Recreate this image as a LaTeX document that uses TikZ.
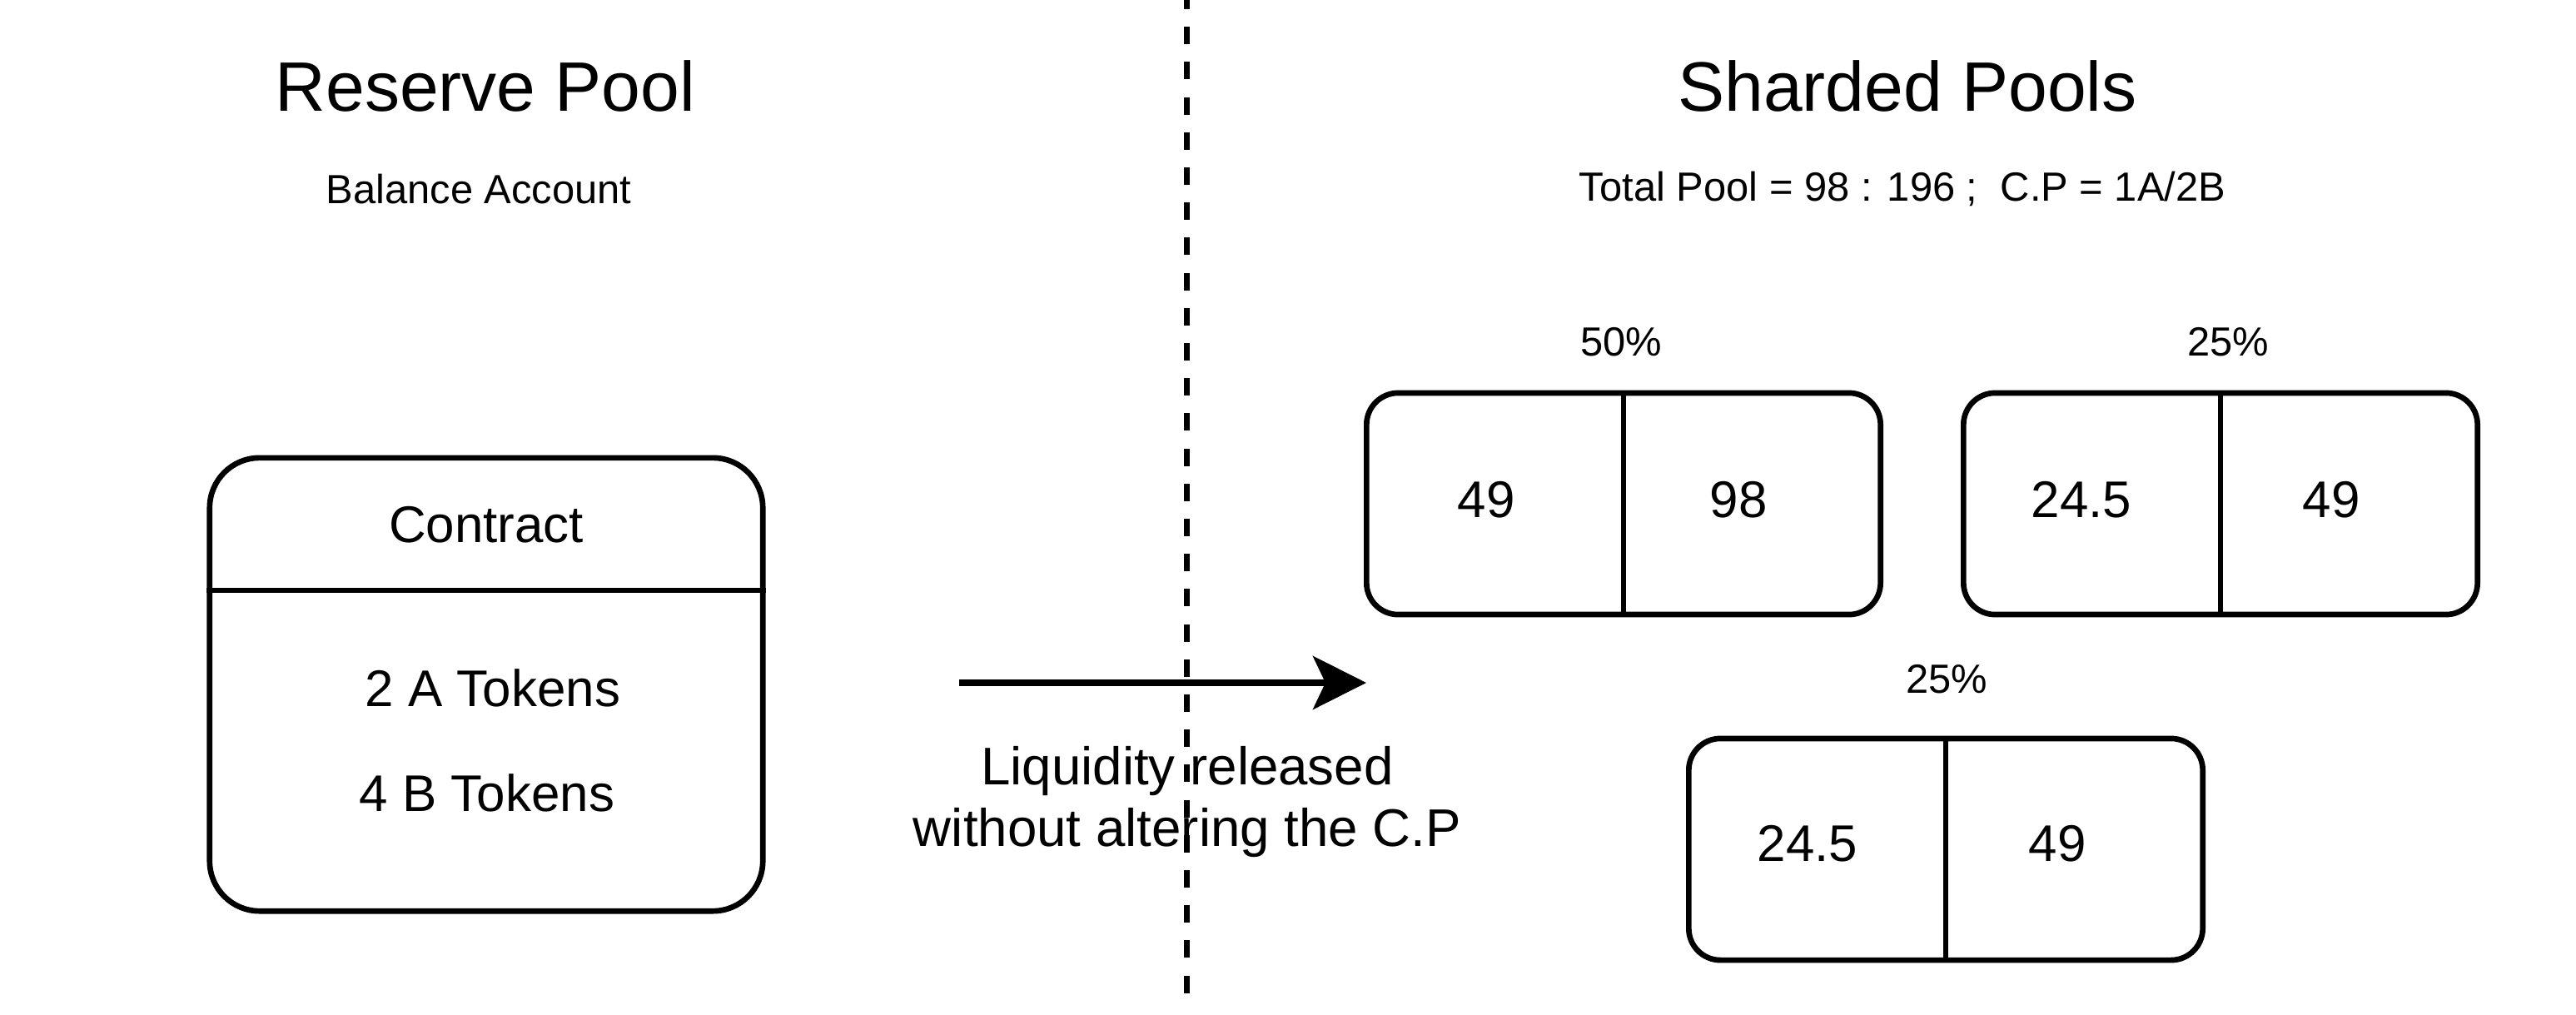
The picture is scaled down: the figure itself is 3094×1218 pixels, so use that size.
\documentclass[tikz,border=0pt]{standalone}
\usepackage{fontspec}
\setmainfont{Liberation Sans}
\usetikzlibrary{arrows.meta,positioning}

\begin{document}
\begin{tikzpicture}[x=0.01cm, y=-0.01cm, >=Stealth]
	\useasboundingbox (0,0) rectangle (3094,1218);
	% ------------------------------------------------------------------
	% STYLE DEFINITIONS
	% ------------------------------------------------------------------
	\tikzset{
		heading/.style     = {inner sep=0pt, font=\fontsize{23.9}{28}\selectfont},
		caption/.style     = {inner sep=0pt, font=\fontsize{13.9}{17}\selectfont},
		body/.style        = {inner sep=0pt, font=\fontsize{17.6}{21}\selectfont},
		contractbox/.style = {draw, line width=1.9pt, rounded corners=0.6cm,
		                      minimum width=6.64cm, minimum height=5.44cm, inner sep=0pt},
		poolbox/.style     = {draw, line width=1.9pt, rounded corners=0.38cm,
		                      minimum width=6.17cm, minimum height=2.66cm, inner sep=0pt},
		divider/.style     = {line width=1.9pt},
	}
	
	% ------------------------------------------------------------------
	% SEPARATOR
	% ------------------------------------------------------------------
	\coordinate (cuttop) at (1425,0);
	\coordinate (cutbot) at (1425,1210);
	\draw[line width=2pt, dash pattern=on 6pt off 6pt, dash phase=2.85pt] (cuttop) -- (cutbot);
	
	% ------------------------------------------------------------------
	% RESERVE POOL
	% ------------------------------------------------------------------
	\node[heading] (reserve) at (583,103) {Reserve Pool};
	\node[caption] (balance) at (575,227) {Balance Account};
	
	\node[contractbox] (contract) at (584,822) {};
	\draw[divider] (contract.west |- 0,709) -- (contract.east |- 0,709);
	\node[body] (contractname) at (584,630) {Contract};
	\node[body] (tokensA) at (592,826) {2 A Tokens};
	\node[body] (tokensB) at (585,952) {4 B Tokens};
	
	% ------------------------------------------------------------------
	% RELEASE ARROW
	% ------------------------------------------------------------------
	\coordinate (release) at (1152,820);
	\coordinate (arrive) at (1641,820);
	\draw[line width=2pt, -{Stealth[length=0.64cm, width=0.64cm, inset=0.15cm]}] (release) -- (arrive);
	\node[body, align=center, font=\fontsize{18.1}{20.8}\selectfont] (released) at (1426,963)
		{Liquidity released\\without altering the C.P};
	
	% ------------------------------------------------------------------
	% SHARDED POOLS
	% ------------------------------------------------------------------
	\node[heading] (sharded) at (2291,103) {Sharded Pools};
	\node[caption] (total) at (2285,227) {Total Pool = 98 : 196 ;\ \ C.P = 1A/2B};
	
	% 1.  50 %  ----  49 : 98
	\node[poolbox] (poolA) at (1950,605) {};
	\draw[divider] (poolA.north) -- (poolA.south);
	\node[caption] (shareA) at (1947,411) {50\%};
	\node[body] (poolAleft) at (1785,600) {49};
	\node[body] (poolAright) at (2088,600) {98};
	
	% 2.  25 %  ----  24.5 : 49
	\node[poolbox] (poolB) at (2667,605) {};
	\draw[divider] (poolB.north) -- (poolB.south);
	\node[caption] (shareB) at (2676,411) {25\%};
	\node[body] (poolBleft) at (2500,600) {24.5};
	\node[body] (poolBright) at (2800,600) {49};
	
	% 3.  25 %  ----  24.5 : 49
	\node[poolbox] (poolC) at (2337,1020) {};
	\draw[divider] (poolC.north) -- (poolC.south);
	\node[caption] (shareC) at (2338,816) {25\%};
	\node[body] (poolCleft) at (2171,1013) {24.5};
	\node[body] (poolCright) at (2471,1013) {49};
	
\end{tikzpicture}
\end{document}
